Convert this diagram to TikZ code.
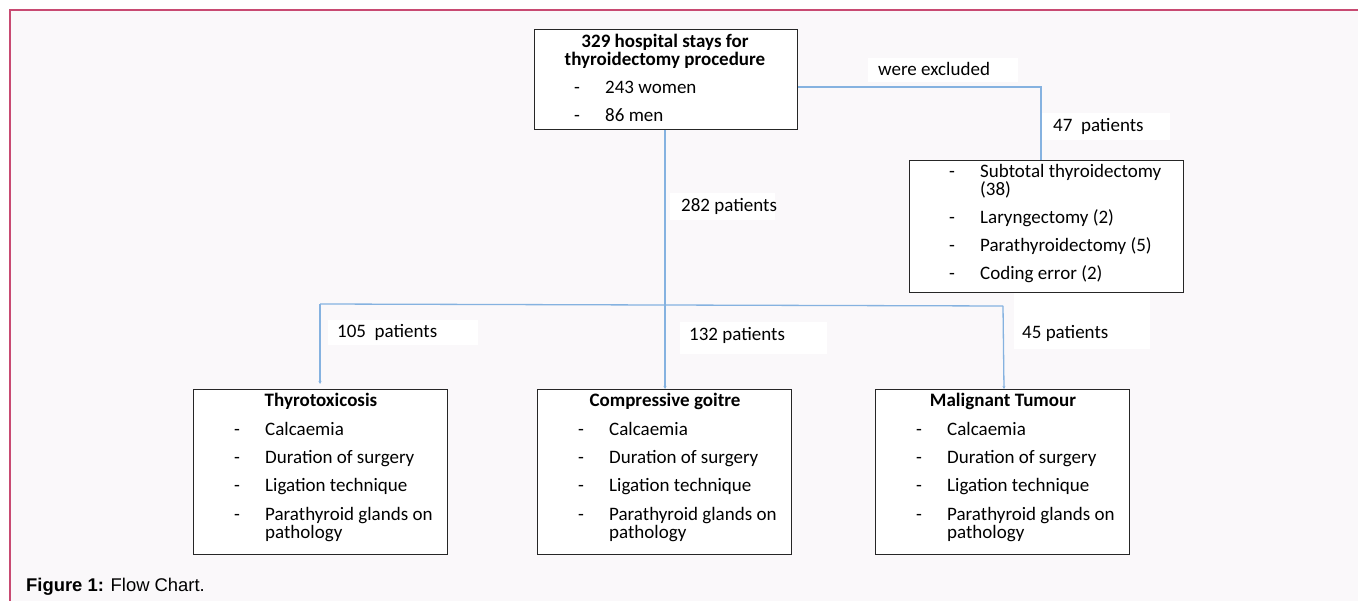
\documentclass[tikz,border=0pt]{standalone}
\usepackage{fontspec}
\setmainfont{Carlito}
\newfontfamily\capfont{Liberation Sans}
\usetikzlibrary{arrows.meta}
\definecolor{bgc}{HTML}{FAF8FA}
\definecolor{framec}{HTML}{C84A72}
\definecolor{linec}{HTML}{85B2E0}
\tikzset{
  box/.style={draw=black!85, line width=1pt, fill=white},
  conn/.style={draw=linec, line width=1.3pt},
  arr/.style={conn, -{Stealth[length=3pt,width=3pt]}},
  txt/.style={font=\fontsize{19}{21}\selectfont, anchor=base west, inner sep=0pt},
  btxt/.style={font=\fontsize{19}{21}\selectfont\bfseries, anchor=base, inner sep=0pt},
}
\begin{document}
\begin{tikzpicture}[x=1pt,y=-1pt]
\useasboundingbox (0,0) rectangle (1358,601);
\fill[white] (0,0) rectangle (1358,601);
\fill[bgc] (10,11) rectangle (1358,601);
\draw[framec, line width=2pt] (9.5,601) -- (9.5,10.5) -- (1358,10.5);

% label backgrounds
\fill[white] (868,58) rectangle (1018,82);
\fill[white] (1040,113) rectangle (1170,140);
\fill[white] (670,193) rectangle (775,220);
\fill[white] (328,320) rectangle (478,345);
\fill[white] (680,322) rectangle (827,354);
\fill[white] (1014,293) rectangle (1150,349);

% top box
\node[box, minimum width=263pt, minimum height=100pt, anchor=north west, inner sep=0pt] (top) at (534,29) {};
\node[btxt] (t1) at (665,48) {329 hospital stays for};
\node[btxt] (t2) at (665,66) {thyroidectomy procedure};
\node[txt] (t3d) at (574,94) {-};
\node[txt] (t3) at (605,94) {243 women};
\node[txt] (t4d) at (574,122) {-};
\node[txt] (t4) at (605,122) {86 men};

% excluded box
\node[box, minimum width=274pt, minimum height=132pt, anchor=north west, inner sep=0pt] (exc) at (909,160) {};
\foreach \y/\t in {178/Subtotal thyroidectomy, 196/(38), 224/Laryngectomy (2), 252/Parathyroidectomy (5), 280/Coding error (2)}{
  \node[txt] at (980,\y) {\t};
}
\foreach \y in {178,224,252,280}{ \node[txt] at (949,\y) {-}; }

% bottom boxes
\foreach \nm/\x/\title in {b1/193/Thyrotoxicosis, b2/537/Compressive goitre, b3/875/Malignant Tumour}{
  \node[box, minimum width=254pt, minimum height=165pt, anchor=north west, inner sep=0pt] (\nm) at (\x,389) {};
  \node[btxt] at (\x+128,407) {\title};
  \foreach \y/\t in {436/Calcaemia, 464/Duration of surgery, 492/Ligation technique, 520/Parathyroid glands on, 538/pathology}{
    \node[txt] at (\x+72,\y) {\t};
  }
  \foreach \y in {436,464,492,520}{ \node[txt] at (\x+41,\y) {-}; }
}

% labels
\node[txt] (l1) at (878,76) {were excluded};
\node[txt] (l2) at (1053,132) {47\ \ patients};
\node[txt] (l3) at (681,212) {282 patients};
\node[txt] (l4) at (337,338) {105\ \ patients};
\node[txt] (l5) at (689,341) {132 patients};
\node[txt] (l6) at (1022,339) {45 patients};

% connectors
\coordinate (ex1) at (1041,87);
\draw[conn] (top.east |- 0,87) -- (ex1) -- (exc.north -| ex1);
\coordinate (sL) at (320,304);
\coordinate (sM) at (665,305);
\coordinate (sR) at (1003,306);
\coordinate (eL) at (320,384);
\coordinate (eR) at (1004,389);
\draw[conn] (sL) -- (sR);
\draw[arr] (top.south -| sM) -- (b2.north -| sM);
\draw[arr] (sL) -- (eL);
\draw[arr] (sR) -- (eR);

% caption
\node[anchor=base west, inner sep=0pt, font=\capfont\fontsize{18.4}{20}\selectfont] (cap) at (26,591) {\textbf{Figure 1:} Flow Chart.};
\end{tikzpicture}
\end{document}
